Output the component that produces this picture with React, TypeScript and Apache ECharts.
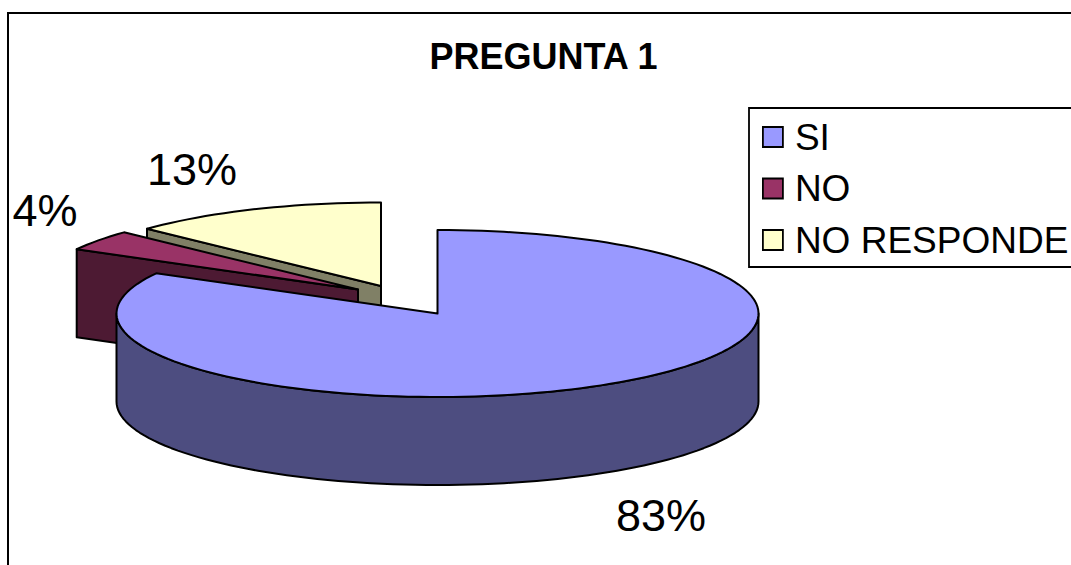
import React, { useEffect, useRef } from "react";
import * as echarts from "echarts";

const titleText = "PREGUNTA 1";
const categories = ["SI", "NO", "NO RESPONDE"];
const values = [83, 4, 13];
const topColors = ["#9999FF", "#993366", "#FFFFCC"];
const wallColors = ["#4D4D80", "#4D1A33", "#808066"];

const RX = 321;
const RY = 83.5;
const DEPTH = 88;
const FONT = '"Liberation Sans", Arial, sans-serif';
const centers = [[437.5, 313.5], [358, 289.5], [381, 286]];
const labelPos = [[661, 515], [45, 210], [192, 169]];
const drawOrder = [2, 1, 0];

const total = values.reduce((a, b) => a + b, 0);

function pt(c: number[], deg: number, dy = 0) {
  const r = (deg * Math.PI) / 180;
  return [c[0] + RX * Math.sin(r), c[1] - RY * Math.cos(r) + dy];
}

function arc(c: number[], from: number, to: number, dy = 0) {
  const pts: number[][] = [];
  const n = Math.max(2, Math.ceil(Math.abs(to - from) / 2));
  for (let i = 0; i <= n; i++) pts.push(pt(c, from + ((to - from) * i) / n, dy));
  return pts;
}

function makeRender(idx: number) {
  return (_params: any, api: any) => {
    const before = values.slice(0, idx).reduce((a, b) => a + b, 0);
    const start = (before / total) * 360;
    const end = start + (api.value(0) / total) * 360;
    const c = centers[idx];
    const line = { stroke: "#000", lineWidth: 2, lineJoin: "round" };
    const children: any[] = [];
    const rimFrom = Math.max(start, 90);
    const rimTo = Math.min(end, 270);
    if (rimTo > rimFrom) {
      const pts = [...arc(c, rimFrom, rimTo), ...arc(c, rimTo, rimFrom, DEPTH)];
      children.push({ type: "polygon", shape: { points: pts }, style: { fill: wallColors[idx], ...line } });
    }
    if (start > 180) {
      const o = pt(c, start);
      children.push({
        type: "polygon",
        shape: { points: [o, c, [c[0], c[1] + DEPTH], [o[0], o[1] + DEPTH]] },
        style: { fill: wallColors[idx], ...line },
      });
    }
    children.push({
      type: "polygon",
      shape: { points: [c, ...arc(c, start, end)] },
      style: { fill: topColors[idx], ...line },
    });
    children.push({
      type: "text",
      x: labelPos[idx][0],
      y: labelPos[idx][1],
      style: {
        text: `${api.value(0)}%`,
        x: 0,
        y: 0,
        fill: "#000",
        font: `45px ${FONT}`,
        align: "center",
        verticalAlign: "middle",
      },
    });
    return { type: "group", children };
  };
}

export default function App() {
  const ref = useRef<HTMLDivElement>(null);
  useEffect(() => {
    const chart = echarts.init(ref.current!, null, { renderer: "svg" });
    chart.setOption({
      animation: false,
      backgroundColor: "#fff",
      title: {
        text: titleText,
        left: 538.5,
        top: 51,
        textAlign: "center",
        textVerticalAlign: "middle",
        textStyle: { fontFamily: FONT, fontSize: 36, fontWeight: "bold", color: "#000" },
      },
      legend: {
        orient: "vertical",
        left: 749,
        top: 108,
        padding: [10.5, 300, 8.5, 13],
        itemGap: 14.5,
        itemWidth: 20,
        itemHeight: 20,
        borderColor: "#000",
        borderWidth: 1.8,
        backgroundColor: "#fff",
        icon: "rect",
        data: categories,
        selectedMode: false,
        itemStyle: { borderColor: "#000", borderWidth: 1.8 },
        textStyle: { fontFamily: FONT, fontSize: 37, color: "#000", padding: [0, 0, 0, 7] },
      },
      graphic: [
        {
          type: "rect",
          z: -1,
          silent: true,
          shape: { x: 8, y: 13, width: 1400, height: 800 },
          style: { fill: "#fff", stroke: "#000", lineWidth: 2 },
        },
      ],
      series: drawOrder.map((i) => ({
        type: "custom",
        name: categories[i],
        coordinateSystem: "none",
        silent: true,
        z: 2 + drawOrder.indexOf(i),
        itemStyle: { color: topColors[i] },
        renderItem: makeRender(i),
        data: [[values[i]]],
      })),
    });
    return () => chart.dispose();
  }, []);
  return <div ref={ref} style={{ position: "fixed", left: 0, top: 0, width: 1071, height: 565 }} />;
}
